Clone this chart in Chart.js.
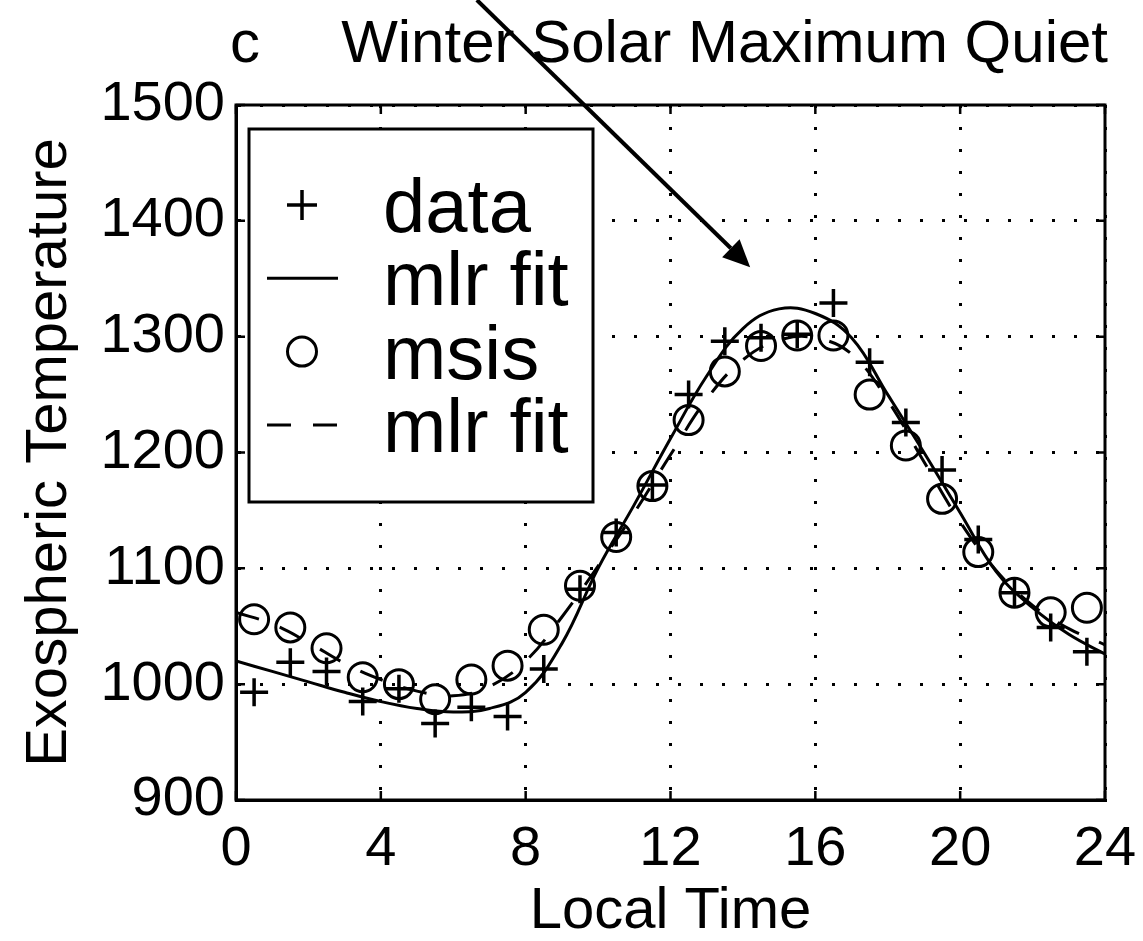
<!DOCTYPE html>
<html lang="en">
<head>
<meta charset="UTF-8">
<title>Winter Solar Maximum Quiet</title>
<script src="https://cdn.jsdelivr.net/npm/chart.js"></script>
<style>
    html, body {
        margin: 0;
        padding: 0;
        background: #fff;
    }
</style>
</head>
<body>
<canvas id="tempChart" width="1143" height="941"></canvas>

<script>
    // values
    const pointHours = [0.5, 1.5, 2.5, 3.5, 4.5, 5.5, 6.5, 7.5, 8.5, 9.5, 10.5, 11.5,
                        12.5, 13.5, 14.5, 15.5, 16.5, 17.5, 18.5, 19.5, 20.5, 21.5, 22.5, 23.5];
    const dataTemp = [993, 1019, 1011, 985, 996, 966, 980, 972, 1013, 1082, 1131, 1172,
                      1250, 1296, 1299, 1302, 1329, 1278, 1226, 1185, 1125, 1079, 1049, 1028];
    const msisTemp = [1056, 1049, 1031, 1006, 1000, 987, 1004, 1016, 1047, 1085, 1127, 1171,
                      1228, 1270, 1292, 1301, 1301, 1250, 1206, 1160, 1114, 1079, 1062, 1066];

    const fitHours = [0, 1, 2, 3, 4, 5, 6, 7, 8, 9, 10, 11, 12,
                      13, 14, 15, 16, 17, 18, 19, 20, 21, 22, 23, 24];
    const dataFit = [1020, 1011, 1002, 993, 985, 979, 976, 979, 993, 1035, 1100, 1155, 1212,
                     1266, 1307, 1324, 1320, 1299, 1250, 1200, 1148, 1097, 1066, 1043, 1026];
    const msisFit = [1062, 1052, 1036, 1018, 1004, 994, 990, 998, 1020, 1058, 1102, 1148, 1198,
                     1246, 1280, 1297, 1299, 1285, 1245, 1192, 1140, 1098, 1068, 1048, 1034];

    const xTicks = [0, 4, 8, 12, 16, 20, 24];
    const yTicks = [900, 1000, 1100, 1200, 1300, 1400, 1500];

    const panelLetter = 'c';
    const panelTitle = 'Winter Solar Maximum Quiet';
    const arrowTip = { x: 14.2, y: 1360 };

    const FONT = '"Liberation Sans", Arial, Helvetica, sans-serif';
    Chart.defaults.font.family = FONT;
    Chart.defaults.color = '#000';

    const toXY = (xs, ys) => xs.map((v, i) => ({ x: v, y: ys[i] }));

    // box round the plot + small inward ticks on all sides
    const framePlugin = {
        id: 'frame',
        afterDatasetsDraw(chart) {
            const { ctx, chartArea: a, scales: { x, y } } = chart;
            ctx.save();
            ctx.strokeStyle = '#000';
            ctx.lineWidth = 3;
            ctx.strokeRect(a.left, a.top, a.right - a.left, a.bottom - a.top);
            ctx.lineWidth = 2.5;
            ctx.beginPath();
            xTicks.forEach(v => {
                const px = x.getPixelForValue(v);
                ctx.moveTo(px, a.bottom); ctx.lineTo(px, a.bottom - 9);
                ctx.moveTo(px, a.top); ctx.lineTo(px, a.top + 9);
            });
            yTicks.forEach(v => {
                const py = y.getPixelForValue(v);
                ctx.moveTo(a.left, py); ctx.lineTo(a.left + 9, py);
                ctx.moveTo(a.right, py); ctx.lineTo(a.right - 9, py);
            });
            ctx.stroke();
            ctx.restore();
        }
    };

    // boxed legend in the upper left corner of the plot
    const boxLegendPlugin = {
        id: 'boxLegend',
        afterDatasetsDraw(chart) {
            const { ctx, chartArea: a } = chart;
            const left = a.left + 13, top = a.top + 24, w = 344, h = 373;
            ctx.save();
            ctx.fillStyle = '#fff';
            ctx.fillRect(left, top, w, h);
            ctx.strokeStyle = '#000';
            ctx.lineWidth = 3;
            ctx.strokeRect(left, top, w, h);

            ctx.font = '76px ' + FONT;
            ctx.textAlign = 'left';
            ctx.textBaseline = 'alphabetic';
            chart.data.datasets.forEach((ds, i) => {
                const cy = top + 76 + i * 73.3;
                const cx = left + 53;
                ctx.fillStyle = '#000';
                ctx.strokeStyle = '#000';
                if (ds.showLine) {
                    ctx.lineWidth = ds.borderWidth;
                    ctx.setLineDash(ds.borderDash || []);
                    ctx.beginPath();
                    ctx.moveTo(left + 18, cy);
                    ctx.lineTo(left + 89, cy);
                    ctx.stroke();
                    ctx.setLineDash([]);
                } else if (ds.pointStyle === 'cross') {
                    const r = 15;
                    ctx.lineWidth = ds.pointBorderWidth;
                    ctx.beginPath();
                    ctx.moveTo(cx - r, cy); ctx.lineTo(cx + r, cy);
                    ctx.moveTo(cx, cy - r); ctx.lineTo(cx, cy + r);
                    ctx.stroke();
                } else {
                    ctx.lineWidth = ds.pointBorderWidth;
                    ctx.beginPath();
                    ctx.arc(cx, cy, ds.pointRadius, 0, Math.PI * 2);
                    ctx.stroke();
                }
                ctx.fillText(ds.label, left + 134, cy + 27);
            });
            ctx.restore();
        }
    };

    // panel letter, title and the arrow that crosses them
    const headerPlugin = {
        id: 'header',
        afterDraw(chart) {
            const { ctx, chartArea: a, scales: { x, y } } = chart;
            ctx.save();
            ctx.fillStyle = '#000';
            ctx.font = '60px ' + FONT;
            ctx.textBaseline = 'alphabetic';
            ctx.textAlign = 'left';
            ctx.fillText(panelLetter, a.left - 6, 62);
            ctx.textAlign = 'right';
            ctx.fillText(panelTitle, a.right + 3, 62);

            const tx = x.getPixelForValue(arrowTip.x);
            const ty = y.getPixelForValue(arrowTip.y);
            const ang = Math.atan2(262, 268);
            const sx = tx - ty / Math.tan(ang);
            const headLen = 27, headHalf = 12.5;
            const bx = tx - headLen * Math.cos(ang), by = ty - headLen * Math.sin(ang);
            ctx.strokeStyle = '#000';
            ctx.lineWidth = 4;
            ctx.beginPath();
            ctx.moveTo(sx, 0);
            ctx.lineTo(bx, by);
            ctx.stroke();
            ctx.beginPath();
            ctx.moveTo(tx, ty);
            ctx.lineTo(bx + headHalf * Math.sin(ang), by - headHalf * Math.cos(ang));
            ctx.lineTo(bx - headHalf * Math.sin(ang), by + headHalf * Math.cos(ang));
            ctx.closePath();
            ctx.fill();
            ctx.restore();
        }
    };

    const ctx = document.getElementById('tempChart').getContext('2d');
    new Chart(ctx, {
        type: 'scatter',
        data: {
            datasets: [
                {
                    label: 'data',
                    data: toXY(pointHours, dataTemp),
                    showLine: false,
                    pointStyle: 'cross',
                    pointRadius: 14,
                    pointBorderWidth: 3.5,
                    borderColor: '#000',
                    backgroundColor: '#000'
                },
                {
                    label: 'mlr fit',
                    data: toXY(fitHours, dataFit),
                    showLine: true,
                    borderColor: '#000',
                    borderWidth: 3,
                    pointRadius: 0,
                    tension: 0.4
                },
                {
                    label: 'msis',
                    data: toXY(pointHours, msisTemp),
                    showLine: false,
                    pointStyle: 'circle',
                    pointRadius: 14.5,
                    pointBorderWidth: 3,
                    borderColor: '#000',
                    backgroundColor: 'rgba(0,0,0,0)'
                },
                {
                    label: 'mlr fit',
                    data: toXY(fitHours, msisFit),
                    showLine: true,
                    borderColor: '#000',
                    borderWidth: 3,
                    borderDash: [24, 22],
                    pointRadius: 0,
                    tension: 0.4
                }
            ]
        },
        options: {
            responsive: false,
            animation: false,
            events: [],
            layout: { padding: { top: 105, right: 38, left: 0, bottom: 0 } },
            plugins: {
                legend: { display: false },
                tooltip: { enabled: false }
            },
            scales: {
                x: {
                    type: 'linear',
                    min: 0,
                    max: 24,
                    afterBuildTicks: s => { s.ticks = xTicks.map(v => ({ value: v })); },
                    afterFit: s => { s.height = 141; s.paddingLeft = 0; s.paddingRight = 0; },
                    ticks: { font: { size: 56 }, color: '#000', padding: 16, maxRotation: 0, callback: v => String(v) },
                    grid: { color: '#000', lineWidth: 3, drawTicks: false },
                    border: { display: true, color: '#000', width: 3, dash: [3, 19] },
                    title: {
                        display: true,
                        text: 'Local Time',
                        font: { size: 58, lineHeight: 1 },
                        color: '#000',
                        padding: { top: 0, bottom: 0 }
                    }
                },
                y: {
                    type: 'linear',
                    min: 900,
                    max: 1500,
                    afterBuildTicks: s => { s.ticks = yTicks.map(v => ({ value: v })); },
                    afterFit: s => { s.width = 236; s.paddingTop = 0; s.paddingBottom = 0; },
                    ticks: { font: { size: 56 }, color: '#000', padding: 11, callback: v => String(v) },
                    grid: { color: '#000', lineWidth: 3, drawTicks: false },
                    border: { display: true, color: '#000', width: 3, dash: [3, 19] },
                    title: {
                        display: true,
                        text: 'Exospheric Temperature',
                        font: { size: 58, lineHeight: 1 },
                        color: '#000',
                        padding: { top: 21, bottom: 0 }
                    }
                }
            }
        },
        plugins: [framePlugin, boxLegendPlugin, headerPlugin]
    });
</script>
</body>
</html>
